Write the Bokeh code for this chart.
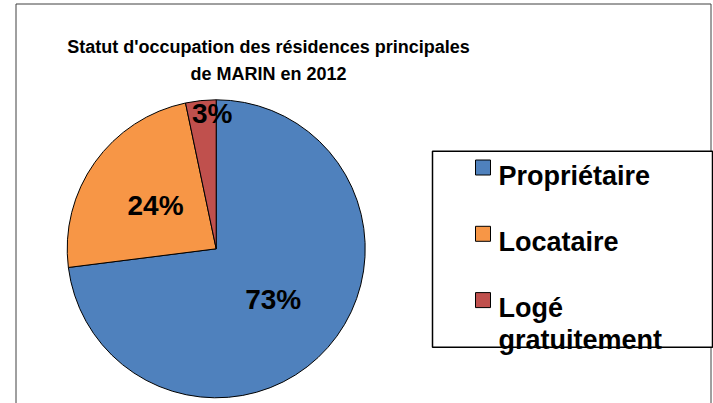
import math
from bokeh.plotting import figure
from bokeh.models import Range1d, ColumnDataSource
from bokeh.core.properties import value
from bokeh.embed import file_html
from bokeh.resources import INLINE

# ---- data -------------------------------------------------------------
title_lines = ["Statut d'occupation des résidences principales", "de MARIN en 2012"]
categories = ["Propriétaire", "Locataire", "Logé gratuitement"]
legend_lines = [["Propriétaire"], ["Locataire"], ["Logé", "gratuitement"]]
shares = [73.0, 23.7, 3.3]
colors = ["#4F81BD", "#F79646", "#C0504D"]

# ---- layout helpers (page pixel coords -> data coords) -----------------
W, H = 713, 403


def Y(y):
    return H - y


p = figure(width=W, height=H, x_range=Range1d(0, W), y_range=Range1d(0, H),
           output_backend="svg", toolbar_location=None, min_border=0)
p.axis.visible = False
p.grid.visible = False
p.outline_line_color = None
p.background_fill_color = "white"
p.border_fill_color = "white"

# chart frame
p.quad(left=[15.5], right=[710.5], top=[Y(3.5)], bottom=[Y(420)],
       fill_color=None, line_color="#404040", line_width=1)

# ---- pie --------------------------------------------------------------
cx, cy, R = 215.7, Y(248.3), 149
total = sum(shares)
starts, ends, mids = [], [], []
cum = 0.0
for v in shares:
    a0 = math.pi / 2 - 2 * math.pi * cum / total
    a1 = math.pi / 2 - 2 * math.pi * (cum + v) / total
    starts.append(a0)
    ends.append(a1)
    mids.append((a0 + a1) / 2)
    cum += v

pie_src = ColumnDataSource(dict(start=starts, end=ends, color=colors, cat=categories))
p.wedge(x=cx, y=cy, radius=R, start_angle="start", end_angle="end", direction="clock",
        fill_color="color", line_color="black", line_width=1, source=pie_src)

label_r = [0.51, 0.50, 0.91]
label_dx = [0, 0, 10]
lab_src = ColumnDataSource(dict(
    x=[cx + R * f * math.cos(m) + dx for f, m, dx in zip(label_r, mids, label_dx)],
    y=[cy + R * f * math.sin(m) for f, m in zip(label_r, mids)],
    t=["%d%%" % round(v * 100 / total) for v in shares],
))
p.text(x="x", y="y", text="t", source=lab_src, text_align="center", text_baseline="middle",
       text_font=value("Liberation Sans"), text_font_style="bold", text_font_size="28px",
       text_color="black")

# ---- title ------------------------------------------------------------
for j, line in enumerate(title_lines):
    p.text(x=[268], y=[Y(46.5 + 26.6 * j)], text=[line], text_align="center",
           text_baseline="alphabetic", text_font=value("Liberation Sans"),
           text_font_style="bold", text_font_size="18px", text_color="black")

# ---- legend -----------------------------------------------------------
p.quad(left=[432], right=[712], top=[Y(150.7)], bottom=[Y(346.7)],
       fill_color="white", line_color="black", line_width=1.5)
step = 66.3
sq_y = [Y(167 + step * i) for i in range(len(categories))]
p.rect(x=[482.5] * len(categories), y=sq_y, width=15, height=15,
       fill_color=colors, line_color="black", line_width=1)
for i, lines in enumerate(legend_lines):
    for j, line in enumerate(lines):
        p.text(x=[498], y=[Y(167 + step * i + 8 + 31.6 * j)], text=[line],
               text_align="left", text_baseline="alphabetic",
               text_font=value("Liberation Sans"), text_font_style="bold",
               text_font_size="27px", text_color="black")

open("out.html", "w").write(file_html(p, INLINE))
